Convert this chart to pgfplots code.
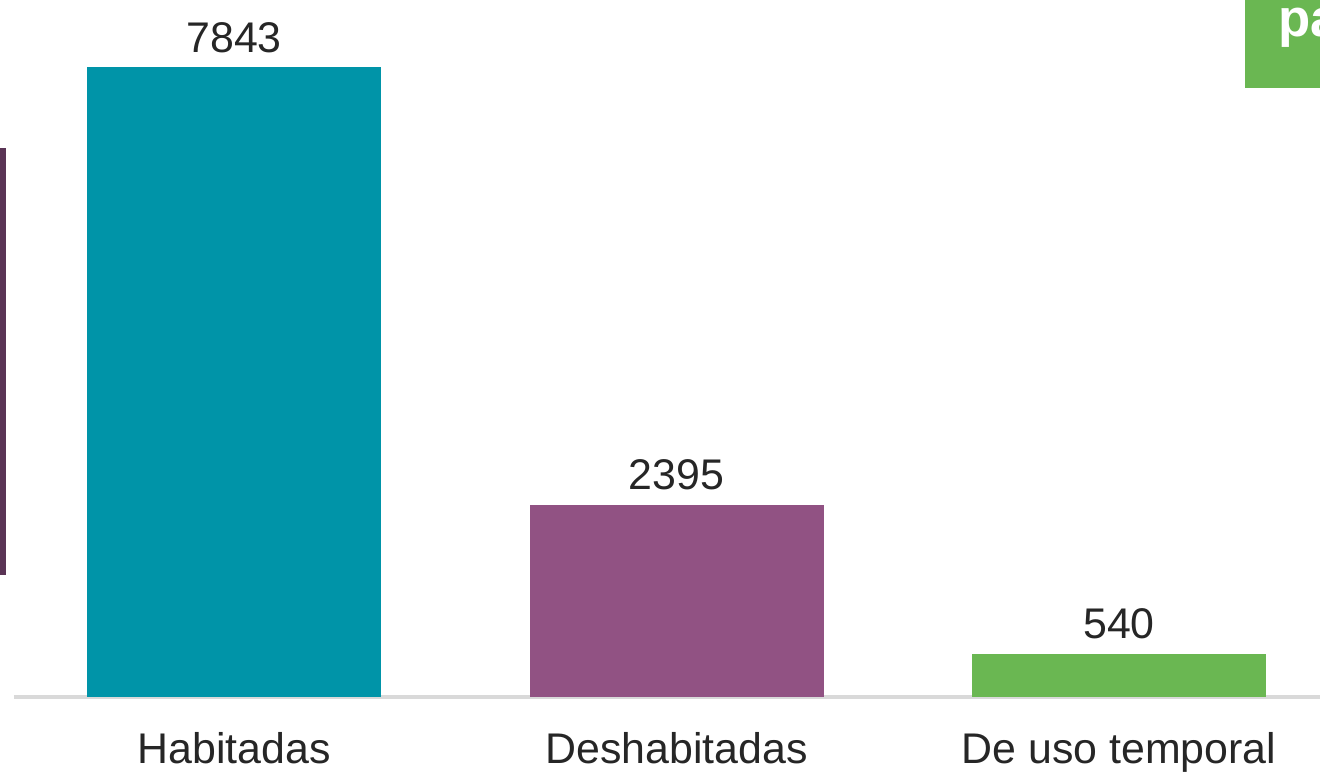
\documentclass[border=0pt]{standalone}
\usepackage{fontspec}
\setmainfont{Liberation Sans}
\usepackage{pgfplots}
\pgfplotsset{compat=1.18}
\definecolor{cteal}{RGB}{0,148,168}
\definecolor{cpurple}{RGB}{145,82,131}
\definecolor{cgreen}{RGB}{106,183,82}
\definecolor{cleft}{RGB}{90,52,85}
\definecolor{cgray}{RGB}{217,217,217}
\definecolor{ctext}{RGB}{38,38,38}
\begin{document}
\begin{tikzpicture}[x=1cm,y=1cm]
\useasboundingbox (0,0) rectangle (13.2,7.71);
\fill[cleft] (0,1.96) rectangle (0.06,6.23);
\fill[cgreen] (12.45,6.83) rectangle (13.2,7.71);
\node[anchor=base west, text=white, font=\bfseries\fontsize{15}{18}\selectfont, inner sep=0] at (12.78,7.34) {pa};
\begin{axis}[
  at={(0.14cm,0.74cm)}, anchor=south west,
  scale only axis, width=13.06cm, height=6.97cm,
  xmin=-0.4972, xmax=2.4542, ymin=0, ymax=8677,
  axis x line*=bottom, axis y line=none,
  x axis line style={draw=cgray, line width=1pt},
  xtick={0,1,2}, xticklabels={Habitadas, Deshabitadas, De uso temporal},
  major tick length=0pt,
  xticklabel style={anchor=base, yshift=-0.66cm, font=\fontsize{12.2}{14}\selectfont, text=ctext},
  /pgf/number format/assume math mode=true,
  /pgf/number format/1000 sep={},
  nodes near coords,
  nodes near coords style={anchor=base, yshift=0.15cm, font=\fontsize{12.2}{14}\selectfont, text=ctext},
  clip=false,
]
\addplot[ybar, bar width=2.94cm, bar shift=0pt, fill=cteal, draw=none] coordinates {(0,7843)};
\addplot[ybar, bar width=2.94cm, bar shift=0pt, fill=cpurple, draw=none] coordinates {(1,2395)};
\addplot[ybar, bar width=2.94cm, bar shift=0pt, fill=cgreen, draw=none] coordinates {(2,540)};
\end{axis}
\end{tikzpicture}
\end{document}
